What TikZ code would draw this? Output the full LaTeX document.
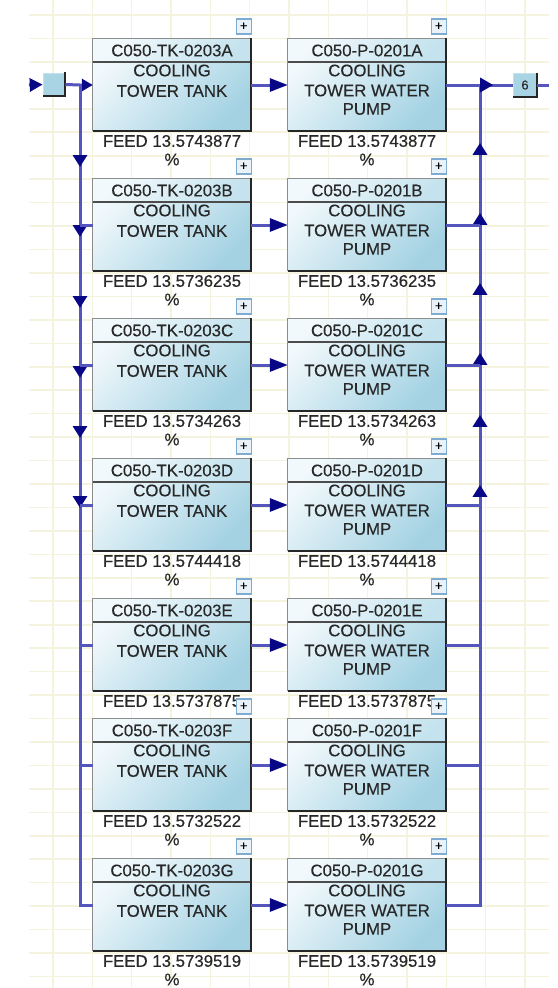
\documentclass[tikz,border=0pt]{standalone}
\usepackage{fontspec}
\setmainfont{Liberation Sans}
\newfontfamily\eqfont{Liberation Sans}[FakeBold=0.35]
\usetikzlibrary{arrows.meta,decorations.markings}
\definecolor{gridc}{RGB}{243,243,222}
\definecolor{flowc}{RGB}{85,85,190}
\definecolor{arrowc}{RGB}{8,8,135}
\definecolor{boxlt}{RGB}{242,249,252}
\definecolor{boxdk}{RGB}{164,210,227}
\definecolor{headlt}{RGB}{242,249,252}
\definecolor{headdk}{RGB}{196,227,238}
\definecolor{txtc}{RGB}{40,40,40}
\definecolor{shadowc}{RGB}{38,38,38}
\definecolor{iconc}{RGB}{125,172,208}
\definecolor{iconfill}{RGB}{232,242,248}
\definecolor{sqfill}{RGB}{168,212,228}

\newcommand\eqframe[4]{%
  \node[eqbody] (#1) at (#2,85+#3) {};
  \shade[top color=headlt,bottom color=headdk,shading angle=45] (#1.north west) rectangle ([yshift=-23pt]#1.north east);
  \draw[seprule] ([yshift=-23pt]#1.north west) -- ([yshift=-23pt]#1.north east);
  \draw[toprule] (#1.south west) -- (#1.north west) -- (#1.north east);
  \draw[shadowrule] ([yshift=0.5pt]#1.north east) -- (#1.south east) -- (#1.south west);
  \node[eqtext] (#1-tag) at (#2,50.5+#3) {#4};
  \node[plusicon] (#1-plus) at ([xshift=-7.5pt,yshift=12.5pt]#1.north east) {+};
}
\newcommand\tankunit[5]{%
  \eqframe{#1}{172}{#2}{#3}%
  \node[eqtext] (#1-l1) at (172,70.5+#2) {COOLING};
  \node[eqtext] (#1-l2) at (172,91+#2) {TOWER TANK};
  \node[eqtext] (#1-feed) at (172,141+#2) {#4};
  \node[eqtext] (#1-pct) at (172,159.5+#2) {#5};
}
\newcommand\pumpunit[5]{%
  \eqframe{#1}{367}{#2}{#3}%
  \node[eqtext] (#1-l1) at (367,70.5+#2) {COOLING};
  \node[eqtext] (#1-l2) at (367,90.5+#2) {TOWER WATER};
  \node[eqtext] (#1-l3) at (367,109+#2) {PUMP};
  \node[eqtext] (#1-feed) at (367,141+#2) {#4};
  \node[eqtext] (#1-pct) at (367,159.5+#2) {#5};
}

\begin{document}
\begin{tikzpicture}[x=1pt,y=-1pt,
  gridline/.style={draw=gridc,line width=1.6pt},
  flow/.style={draw=flowc,line width=3pt},
  eqbody/.style={rectangle,minimum width=158pt,minimum height=92pt,inner sep=0pt,
     top color=boxlt,bottom color=boxdk,shading angle=45},
  seprule/.style={draw=black!70,line width=2pt},
  toprule/.style={draw=black!45,line width=0.8pt},
  shadowrule/.style={draw=shadowc,line width=2pt},
  eqtext/.style={font=\eqfont\fontsize{16.8}{19}\selectfont,text=txtc,inner sep=0pt},
  plusicon/.style={rectangle,draw=iconc,line width=1.4pt,fill=iconfill,minimum width=15pt,
     minimum height=15pt,inner sep=0pt,font=\eqfont\fontsize{13}{13}\selectfont,text=black},
  smallsq/.style={rectangle,fill=sqfill,draw=sqfill!70!white,line width=0.6pt,inner sep=0pt,
     font=\eqfont\fontsize{13}{13}\selectfont,text=txtc},
  busmark/.style={postaction={decorate,decoration={markings,
     mark=at position #1 with {\arrow[color=arrowc]{Triangle[length=12pt,width=14pt]}}}}},
  ptr/.style={-{Triangle[length=18pt,width=13pt,color=arrowc]}}
]
\useasboundingbox (0,0) rectangle (557,988);
\fill[white] (0,0) rectangle (557,988);

% background grid
\begin{scope}
  \clip (29,0) rectangle (549,988);
  \foreach \k in {0,...,12} \draw[gridline] ({53+39.33*\k},0) -- ({53+39.33*\k},988);
  \foreach \k in {0,...,41} \draw[gridline] (29,{15+23.45*\k}) -- (549,{15+23.45*\k});
\end{scope}

% units, row by row
\tankunit{tkA}{0}{C050-TK-0203A}{FEED 13.5743877}{\%}
\pumpunit{pA}{0}{C050-P-0201A}{FEED 13.5743877}{\%}
\tankunit{tkB}{140}{C050-TK-0203B}{FEED 13.5736235}{\%}
\pumpunit{pB}{140}{C050-P-0201B}{FEED 13.5736235}{\%}
\tankunit{tkC}{280}{C050-TK-0203C}{FEED 13.5734263}{\%}
\pumpunit{pC}{280}{C050-P-0201C}{FEED 13.5734263}{\%}
\tankunit{tkD}{420}{C050-TK-0203D}{FEED 13.5744418}{\%}
\pumpunit{pD}{420}{C050-P-0201D}{FEED 13.5744418}{\%}
\tankunit{tkE}{560}{C050-TK-0203E}{FEED 13.5737875}{}
\pumpunit{pE}{560}{C050-P-0201E}{FEED 13.5737875}{}
\tankunit{tkF}{680}{C050-TK-0203F}{FEED 13.5732522}{\%}
\pumpunit{pF}{680}{C050-P-0201F}{FEED 13.5732522}{\%}
\tankunit{tkG}{820}{C050-TK-0203G}{FEED 13.5739519}{\%}
\pumpunit{pG}{820}{C050-P-0201G}{FEED 13.5739519}{\%}

% feed and product squares
\node[smallsq,minimum width=22pt,minimum height=23pt] (inbox) at (54,84.5) {};
\draw[shadowrule] ([yshift=0.5pt]inbox.north east) -- (inbox.south east) -- (inbox.south west);
\node[smallsq,minimum width=24pt,minimum height=23pt] (out6) at (525,85) {6};
\draw[shadowrule] ([yshift=0.5pt]out6.north east) -- (out6.south east) -- (out6.south west);

% junction coordinates
\foreach \r/\o in {A/0,B/140,C/280,D/420,E/560,F/680,G/820}{
  \coordinate (jL\r) at (80,85+\o);
  \coordinate (jR\r) at (480,85+\o);
}
\coordinate (src) at (29,85);
\coordinate (sink) at (549,85);

% inlet
\draw[flow,-{Triangle[length=13pt,width=13pt,color=arrowc]}] (src) -- (inbox.west);
\draw[flow,-{Triangle[length=11pt,width=12pt,color=arrowc]}] (inbox.east) -- (jLA) -- (tkA.west);

% left header
\draw[flow,busmark=82pt,busmark=152pt,busmark=223pt,busmark=293pt,busmark=353pt,busmark=423pt]
  (jLA) -- (jLG) -- (tkG.west);
\foreach \r in {B,C,D,E,F} \draw[flow] (jL\r) -- (tk\r.west);

% tank to pump
\foreach \r in {A,B,C,D,E,F,G} \draw[flow,ptr] (tk\r.east) -- (p\r.west);

% right header
\draw[flow,busmark=796pt,busmark=726pt,busmark=656pt,busmark=586pt,busmark=524pt,busmark=454pt]
  (pG.east) -- (jRG) -- (jRA);
\foreach \r in {B,C,D,E,F} \draw[flow] (p\r.east) -- (jR\r);

% outlet
\draw[flow,postaction={decorate,decoration={markings,
   mark=at position 47pt with {\arrow[color=arrowc]{Triangle[length=13pt,width=14pt]}}}}]
  (pA.east) -- (jRA) -- (out6.west);
\draw[flow] (out6.east) -- (sink);
\end{tikzpicture}
\end{document}
